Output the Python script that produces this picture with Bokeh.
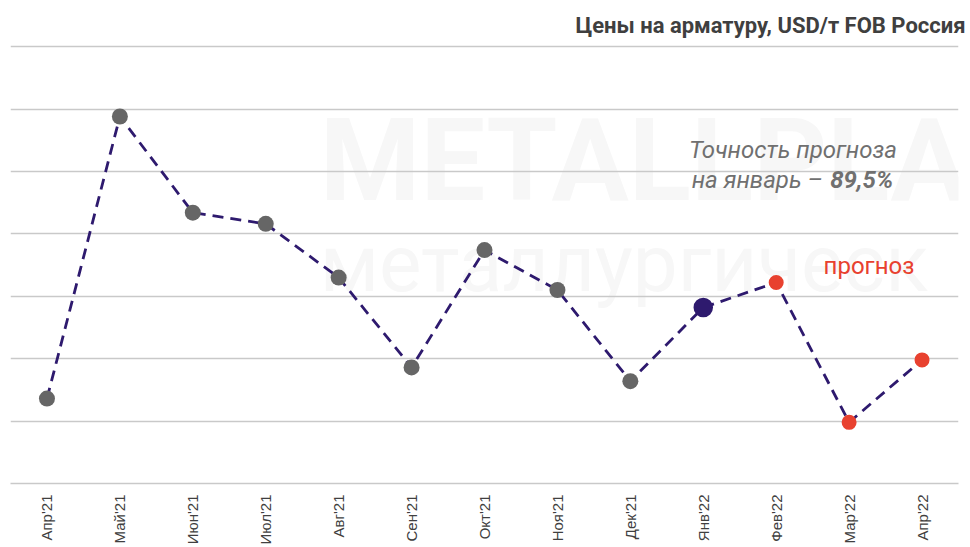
import math
from bokeh.plotting import figure
from bokeh.models import Range1d, FactorRange, FixedTicker, Label
from bokeh.embed import file_html
from bokeh.resources import INLINE

# ---- data ----
months = ["Апр'21", "Май'21", "Июн'21", "Июл'21", "Авг'21", "Сен'21", "Окт'21",
          "Ноя'21", "Дек'21", "Янв'22", "Фев'22", "Мар'22", "Апр'22"]
prices = [568, 794, 717, 708, 665, 593, 687, 655, 582, 641, 661, 549, 599]

actual_months = months[:9]
actual_prices = prices[:9]
jan_month = [months[9]]
jan_price = [prices[9]]
forecast_months = months[10:]
forecast_prices = prices[10:]

grid_ticks = [500, 550, 600, 650, 700, 750, 800, 850]

title_text = "Цены на арматуру, USD/т FOB Россия"
accuracy_line1 = "Точность прогноза"
accuracy_line2a = "на январь –"
accuracy_value = "89,5%"
forecast_label = "прогноз"
watermark_1 = "METALLPLA"
watermark_2 = "металлургическ"

NAVY = "#2E1A6E"
GRAY = "#666666"
RED = "#E8412F"
GRID = "#C9C9C9"

p = figure(width=970, height=547, x_range=FactorRange(*months, range_padding=0),
           y_range=Range1d(500, 856.5), output_backend="svg", toolbar_location=None,
           min_border_left=10, min_border_right=12, min_border_top=38, min_border_bottom=62)

p.title.text = title_text
p.title.align = "right"
p.title.offset = -7
p.title.standoff = 1
p.title.text_font = "Roboto"
p.title.text_font_size = "22px"
p.title.text_font_style = "bold"
p.title.text_color = "#3F3F3F"

p.outline_line_color = None
p.xgrid.visible = False
p.ygrid.ticker = FixedTicker(ticks=grid_ticks)
p.ygrid.grid_line_color = GRID
p.ygrid.grid_line_width = 1.5
p.yaxis.visible = False

p.xaxis.axis_line_color = GRID
p.xaxis.axis_line_width = 1.5
p.xaxis.major_tick_line_color = None
p.xaxis.minor_tick_line_color = None
p.xaxis.major_label_orientation = math.pi / 2
p.xaxis.major_label_standoff = 5
p.xaxis.major_label_text_font = "Liberation Sans"
p.xaxis.major_label_text_font_size = "15px"
p.xaxis.major_label_text_color = "#404040"

# watermark (very faint, behind grid)
p.add_layout(Label(x=4.24, y=705, text=watermark_1, text_font="Roboto", text_font_style="bold",
                   text_font_size="115px", text_color="#F7F7F7", level="image"))
p.add_layout(Label(x=4.24, y=638, text=watermark_2, text_font="Roboto",
                   text_font_size="80px", text_color="#F7F7F7", level="image"))

p.line(x=months, y=prices, line_color=NAVY, line_width=2.8, line_dash="11 7")
p.scatter(x=actual_months, y=actual_prices, size=16, fill_color=GRAY, line_color=None)
p.scatter(x=jan_month, y=jan_price, size=19.5, fill_color=NAVY, line_color=None)
p.scatter(x=forecast_months, y=forecast_prices, size=15, fill_color=RED, line_color=None)

p.add_layout(Label(x=10.73, y=756, text=accuracy_line1, text_font="Roboto", text_font_style="italic",
                   text_font_size="24px", text_color="#707070", text_align="center"))
p.add_layout(Label(x=11.14, y=732, text=accuracy_line2a, text_font="Roboto", text_font_style="italic",
                   text_font_size="24px", text_color="#707070", text_align="right"))
p.add_layout(Label(x=11.24, y=732, text=accuracy_value, text_font="Roboto", text_font_style="bold italic",
                   text_font_size="24px", text_color="#707070", text_align="left"))
p.add_layout(Label(x=11.15, y=662.7, text=forecast_label, text_font="Roboto",
                   text_font_size="24px", text_color=RED, text_align="left"))

open("out.html", "w").write(file_html(p, INLINE))
